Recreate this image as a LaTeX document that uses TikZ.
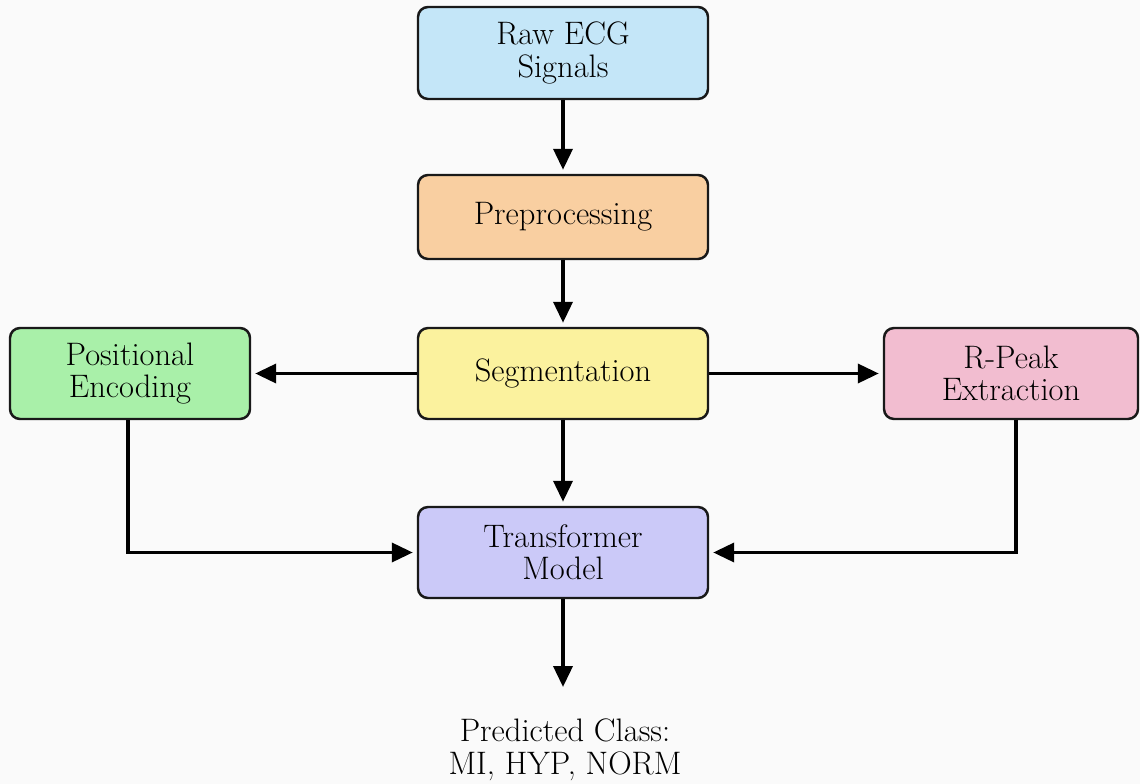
\documentclass[tikz,border=0pt]{standalone}
\usetikzlibrary{arrows.meta}
\definecolor{rawblue}{HTML}{C4E6F8}
\definecolor{preorange}{HTML}{F9CFA1}
\definecolor{segyellow}{HTML}{FBF29E}
\definecolor{posgreen}{HTML}{A9F0A9}
\definecolor{peakpink}{HTML}{F2BDD0}
\definecolor{transpurple}{HTML}{CBC9F8}
\def\mx{11.26}
\tikzset{stage/.style={draw=black!90,line width=1.4pt,rounded corners=.2cm,align=center,minimum width=5.8cm,minimum height=1.82cm,inner sep=0pt,font=\fontsize{18.5}{18.3}\selectfont},
  flow/.style={-{Triangle[length=.42cm,width=.38cm]},line width=2.1pt,shorten >=.08cm}}

\begin{document}
\begin{tikzpicture}
  \useasboundingbox[fill=gray!4] (0,0) rectangle (22.8,-15.68);
  \node[stage,fill=rawblue,minimum height=1.84cm] (raw) at (\mx,-1.06) {Raw ECG\\Signals};
  \node[stage,fill=preorange,minimum height=1.68cm] (prep) at (\mx,-4.34) {Preprocessing};
  \node[stage,fill=segyellow] (seg) at (\mx,-7.47) {Segmentation};
  \node[stage,fill=posgreen,minimum width=4.8cm] (pos) at (2.6,-7.47) {Positional\\Encoding};
  \node[stage,fill=peakpink,minimum width=5.08cm] (peak) at (20.22,-7.47) {R-Peak\\Extraction};
  \node[stage,fill=transpurple] (trans) at (\mx,-11.05) {Transformer\\Model};
  \node[align=center,font=\fontsize{18.5}{19}\selectfont] (out) at (11.3,-15.0) {Predicted Class:\\MI, HYP, NORM};
  \coordinate (outtip) at (\mx,-13.74);
  \draw[flow] (raw) -- (prep);
  \draw[flow] (prep) -- (seg);
  \draw[flow] (seg) -- (pos);
  \draw[flow] (seg) -- (peak);
  \draw[flow] (seg) -- (trans);
  \draw[flow] ([xshift=-.04cm]pos.south) |- (trans.west);
  \draw[flow] ([xshift=.1cm]peak.south) |- (trans.east);
  \draw[flow,shorten >=0pt] (trans) -- (outtip);
\end{tikzpicture}
\end{document}
